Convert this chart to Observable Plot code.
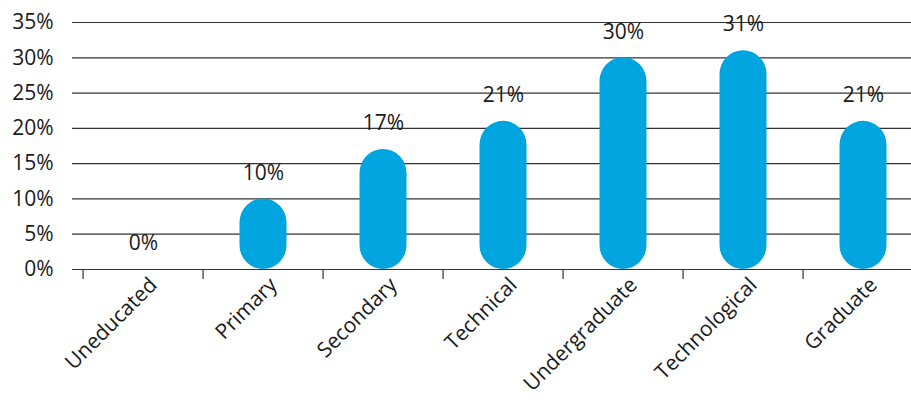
<!DOCTYPE html>
<html>
<head>
<meta charset="utf-8">
<script src="https://cdn.jsdelivr.net/npm/d3@7"></script>
<script src="https://cdn.jsdelivr.net/npm/@observablehq/plot@0.6"></script>
<style>
  html, body { margin: 0; padding: 0; background: #fff; }
  #chart svg { display: block; }
</style>
</head>
<body>
<div id="chart"></div>
<script>
const categories = ["Uneducated", "Primary", "Secondary", "Technical", "Undergraduate", "Technological", "Graduate"];
const values = [0, 10, 17, 21, 30, 31, 21];
const yTicks = [0, 5, 10, 15, 20, 25, 30, 35];

const data = categories.map((c, i) => ({category: c, value: values[i]}));

const W = 911, H = 401;
const xRange = [80, 926];
const step = (xRange[1] - xRange[0]) / categories.length;
const font = "'Open Sans', Lato, sans-serif";

const chart = Plot.plot({
  width: W,
  height: H,
  marginLeft: 72,
  marginRight: 0,
  marginTop: 22,
  marginBottom: 132,
  style: {fontFamily: font, fontSize: "21px", fontWeight: 400, color: "#1a1a1a", background: "#fff", overflow: "visible"},
  x: {domain: categories, range: xRange, padding: 0, label: null},
  y: {domain: [0, 35], label: null},
  marks: [
    Plot.gridY(yTicks, {stroke: "#333", strokeOpacity: 1, strokeWidth: 1.2}),
    Plot.axisY(yTicks, {tickSize: 0, tickPadding: 19, tickFormat: d => d + "%", fontSize: 21, fill: "#1a1a1a", label: null}),
    Plot.barY(data, {x: "category", y: "value", fill: "#00A4DF", insetLeft: 36.5, insetRight: 36.5, rx: 24}),
    Plot.text(data, {x: "category", y: "value", text: d => d.value + "%", dy: -26, fontSize: 21, fill: "#1a1a1a"}),
    Plot.ruleX(categories, {x: d => d, y1: 0, y2: -1.4, dx: -step / 2, stroke: "#333", strokeWidth: 1.2}),
    Plot.axisX({tickSize: 0, tickRotate: -45, tickPadding: 12, fontSize: 21, fill: "#1a1a1a", dx: 10, label: null})
  ]
});
document.getElementById("chart").appendChild(chart);
</script>
</body>
</html>
